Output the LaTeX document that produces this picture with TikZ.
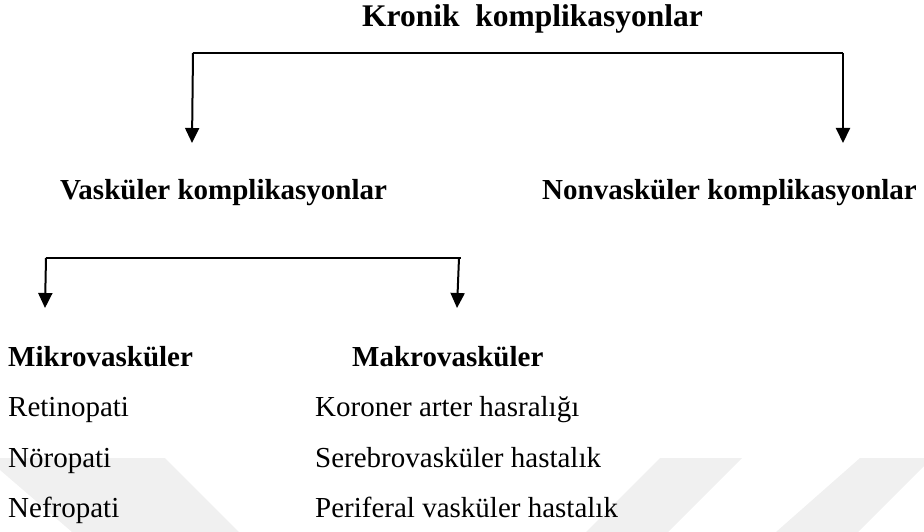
\documentclass[tikz,border=0pt]{standalone}
\usepackage{fontspec}
\setmainfont{Liberation Serif}
\usetikzlibrary{arrows.meta}
\begin{document}
\begin{tikzpicture}[x=1pt,y=-1pt,
  lbl/.style={inner sep=0pt, anchor=base west},
  hd/.style={lbl, font=\fontsize{29}{34}\selectfont\bfseries},
  tt/.style={lbl, font=\fontsize{31.5}{36}\selectfont\bfseries},
  itm/.style={lbl, font=\fontsize{29}{34}\selectfont},
  conn/.style={line width=2pt},
  arr/.style={conn, -{Triangle[length=15pt,width=14pt]}},
  wm/.style={fill=black!6, draw=none}]
\useasboundingbox (0,0) rectangle (924,532);
% faint watermark
\fill[wm] (0,458) -- (165,458) -- (239,532) -- (72,532) -- (0,470) -- cycle;
\fill[wm] (660,458) -- (742,458) -- (668,532) -- (586,532) -- cycle;
\fill[wm] (860,458) -- (924,458) -- (924,466) -- (858,532) -- (776,532) -- cycle;
% texts
\node[tt] (title) at (362,27) {Kronik\ \ komplikasyonlar};
\node[hd] (vas) at (60,199) {Vasküler komplikasyonlar};
\node[hd] (nonvas) at (542,200) {Nonvasküler komplikasyonlar};
\node[hd] (mikro) at (8,366) {Mikrovasküler};
\node[hd] (makro) at (352,366) {Makrovasküler};
\node[itm] (ret) at (8,416) {Retinopati};
\node[itm] (nor) at (8,467) {Nöropati};
\node[itm] (nef) at (8,517) {Nefropati};
\node[itm] (kor) at (315,416) {Koroner arter hasralığı};
\node[itm] (ser) at (315,467) {Serebrovasküler hastalık};
\node[itm] (per) at (315,517) {Periferal vasküler hastalık};
% top bracket
\coordinate (tL) at (193,53);
\coordinate (tR) at (843,53);
\coordinate (tLe) at (192,143);
\coordinate (tRe) at (843,143);
\draw[conn] (tL) -- (tR);
\draw[arr] (tL) -- (tLe);
\draw[arr] (tR) -- (tRe);
% lower bracket
\coordinate (bL) at (46,258);
\coordinate (bR) at (459,258);
\coordinate (bRx) at (461,258);
\coordinate (bLe) at (45,308);
\coordinate (bRe) at (457,308);
\draw[conn] (bL) -- (bRx);
\draw[arr] (bL) -- (bLe);
\draw[arr] (bR) -- (bRe);
\end{tikzpicture}
\end{document}
